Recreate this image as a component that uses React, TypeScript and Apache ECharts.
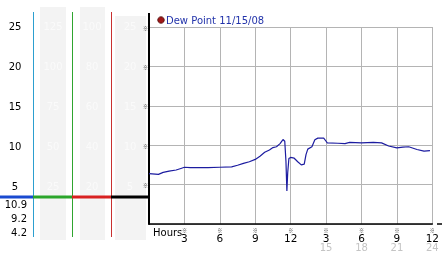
import React, { useEffect, useRef } from "react";
import * as echarts from "echarts";

const hours = [0, 0.8, 1.2, 1.7, 2.3, 2.7, 3.0, 3.5, 4.0, 5.0, 6.0, 7.0, 7.5, 8.0, 8.5, 9.0, 9.4, 9.8, 10.2, 10.5, 10.8, 11.1, 11.35, 11.5, 11.6, 11.68, 11.75, 11.85, 12.0, 12.3, 12.6, 12.9, 13.15, 13.3, 13.45, 13.8, 14.05, 14.3, 14.8, 15.0, 15.1, 16.0, 16.6, 17.0, 18.0, 19.0, 19.7, 20.3, 21.0, 21.5, 22.0, 22.7, 23.3, 23.8];
const dewPoint = [6.4, 6.3, 6.55, 6.7, 6.85, 7.05, 7.2, 7.15, 7.15, 7.15, 7.2, 7.25, 7.45, 7.7, 7.9, 8.2, 8.6, 9.1, 9.4, 9.7, 9.8, 10.2, 10.72, 10.5, 8.0, 4.2, 6.5, 8.3, 8.45, 8.35, 7.9, 7.5, 7.6, 8.8, 9.5, 9.8, 10.7, 10.9, 10.9, 10.5, 10.3, 10.25, 10.2, 10.35, 10.3, 10.35, 10.3, 9.9, 9.65, 9.75, 9.8, 9.45, 9.25, 9.3];

const leftTicks = ["25", "20", "15", "10", "5"];
const col1Ticks = ["125", "100", "75", "50", "25"];
const col2Ticks = ["100", "80", "60", "40", "20"];
const col3Ticks = ["25", "20", "15", "10", "5"];
const statLabels = ["10.9", "9.2", "4.2"];
const legendText = "Dew Point 11/15/08";

const FONT = "DejaVu Sans";

export default function App() {
  const ref = useRef<HTMLDivElement>(null);
  useEffect(() => {
    if (!ref.current) return;
    const chart = echarts.init(ref.current, null, { renderer: "svg" });
    const rowY = [26, 66, 106, 146, 186];
    const graphics: any[] = [];
    [[40, 7, 26, 233], [80, 7, 25, 233], [115, 16, 31, 224]].forEach(([x, y, w, h]) =>
      graphics.push({ type: "rect", shape: { x, y, width: w, height: h }, style: { fill: "#f3f3f3" }, z: 0 })
    );
    [[33, "#2c9fd0"], [72, "#2fa52f"], [111, "#c83030"]].forEach(([x, c]) =>
      graphics.push({ type: "line", shape: { x1: (x as number) + 0.5, y1: 12, x2: (x as number) + 0.5, y2: 237 }, style: { stroke: c, lineWidth: 1 }, z: 1 })
    );
    [[0, 33, "#1a4ad0"], [33, 72, "#2aa52a"], [72, 111, "#d82020"], [111, 149, "#000000"]].forEach(([a, b, c]) =>
      graphics.push({ type: "line", shape: { x1: a, y1: 197, x2: b, y2: 197 }, style: { stroke: c, lineWidth: 3 }, z: 2 })
    );
    leftTicks.forEach((t, i) =>
      graphics.push({ type: "text", x: 15, y: rowY[i], style: { text: t, fill: "#000", font: `10px "${FONT}"`, align: "center", verticalAlign: "middle" }, z: 3 })
    );
    [[col1Ticks, 53], [col2Ticks, 92], [col3Ticks, 130]].forEach(([arr, x]) =>
      (arr as string[]).forEach((t, i) =>
        graphics.push({ type: "text", x: x as number, y: rowY[i], style: { text: t, fill: "#fafafa", font: `10px "${FONT}"`, align: "center", verticalAlign: "middle" }, z: 3 })
      )
    );
    statLabels.forEach((t, i) =>
      graphics.push({ type: "text", x: 27, y: 204 + i * 14, style: { text: t, fill: "#000", font: `10px "${FONT}"`, align: "right", verticalAlign: "middle" }, z: 3 })
    );
    graphics.push({ type: "line", shape: { x1: 149, y1: 13, x2: 149, y2: 27 }, style: { stroke: "#000", lineWidth: 2 }, z: 5 });
    graphics.push({ type: "line", shape: { x1: 437, y1: 224, x2: 442, y2: 224 }, style: { stroke: "#000", lineWidth: 1.5 }, z: 5 });
    graphics.push({ type: "circle", shape: { cx: 161, cy: 20, r: 3.3 }, style: { fill: "#a01818", stroke: "#4a0a0a", lineWidth: 0.8 }, z: 5 });
    graphics.push({ type: "text", x: 166, y: 20, style: { text: legendText, fill: "#2233aa", font: `10px "${FONT}"`, verticalAlign: "middle" }, z: 5 });
    graphics.push({ type: "text", x: 153, y: 232, style: { text: "Hours", fill: "#000", font: `10px "${FONT}"`, verticalAlign: "middle" }, z: 5 });

    const baseX = { type: "value", gridIndex: 0, min: 0, max: 24, interval: 3, position: "bottom" };
    chart.setOption({
      animation: false,
      grid: { left: 149, right: 4, top: 27, bottom: 29 },
      xAxis: [
        {
          ...baseX,
          axisLine: { show: true, onZero: false, lineStyle: { color: "#000", width: 1.5 } },
          axisTick: { show: false },
          splitLine: { show: true, lineStyle: { color: "#b4b4b4", width: 1 } },
          axisLabel: { formatter: (v: number) => (v === 0 ? "" : "※"), fontSize: 5, fontFamily: "Noto Sans CJK JP", color: "#333", margin: 3 },
        },
        {
          ...baseX,
          axisLine: { show: false },
          axisTick: { show: false },
          splitLine: { show: false },
          axisLabel: { formatter: (v: number) => (v === 0 ? "" : v % 12 === 0 ? "12" : String(v % 12)), fontSize: 10.5, fontFamily: FONT, color: "#000", margin: 8 },
        },
        {
          ...baseX,
          axisLine: { show: false },
          axisTick: { show: false },
          splitLine: { show: false },
          axisLabel: { formatter: (v: number) => (v > 12 ? String(v) : ""), fontSize: 10, fontFamily: FONT, color: "#c4c4c4", margin: 18.5 },
        },
      ],
      yAxis: {
        type: "value",
        min: 0,
        max: 25,
        interval: 5,
        axisLine: { show: true, lineStyle: { color: "#000", width: 2 } },
        axisTick: { show: false },
        splitLine: { show: true, lineStyle: { color: "#b4b4b4", width: 1 } },
        axisLabel: { formatter: (v: number) => (v === 0 ? "" : "※"), fontSize: 5, fontFamily: "Noto Sans CJK JP", color: "#333", margin: 1 },
      },
      series: [
        {
          type: "line",
          xAxisIndex: 0,
          data: hours.map((h, i) => [h, dewPoint[i]]),
          showSymbol: false,
          lineStyle: { color: "#1c1ca0", width: 1.2 },
          itemStyle: { color: "#1c1ca0" },
        },
      ],
      graphic: graphics,
    });
    return () => chart.dispose();
  }, []);
  return <div ref={ref} style={{ position: "fixed", left: 0, top: 0, width: 442, height: 253 }} />;
}
